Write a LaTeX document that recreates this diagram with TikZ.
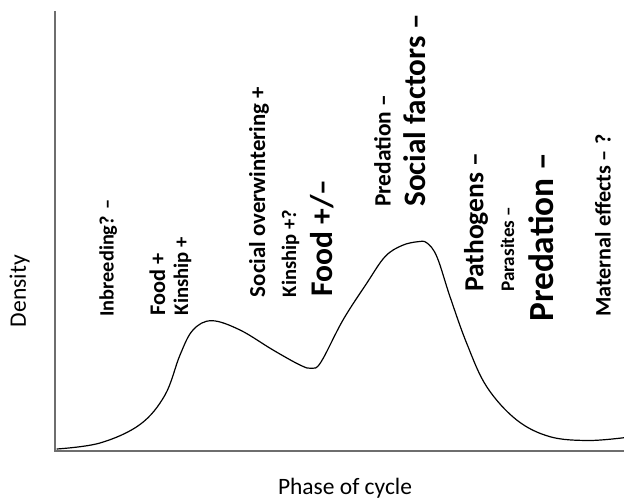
\documentclass[tikz,border=0pt]{standalone}
\usepackage{fontspec}
\setmainfont{Carlito}
\definecolor{axisgray}{HTML}{6E6E6E}
\newlength\lblwd
% set #3 in series #1 at the size that makes it #2 pt long
\newcommand\sizedtext[3]{%
  \settowidth\lblwd{#1\fontsize{10pt}{12pt}\selectfont #3}%
  \pgfmathsetmacro\lblsize{10*#2/\lblwd}%
  #1\fontsize{\lblsize pt}{\lblsize pt}\selectfont #3}
\begin{document}
\begin{tikzpicture}[x=1pt,y=-1pt,
  axis/.style={draw=axisgray, line width=1.6pt},
  curve/.style={draw=black, line width=1.2pt, line join=round},
  lbl/.style={rotate=90, anchor=west, inner sep=0pt, outer sep=0pt},
  axlbl/.style={inner sep=0pt, outer sep=0pt}]
\useasboundingbox (0,0) rectangle (624,500);

% axes
\coordinate (ytop) at (55,11);
\coordinate (orig) at (55,451);
\coordinate (xend) at (625,451);
\draw[axis] (ytop) -- (orig) -- (xend);

% density curve over the cycle
\draw[curve] plot[smooth, tension=0.6] coordinates {
  (56.7,449) (100,443) (140,424.5) (165,395) (180,355) (193,330)
  (211.7,320.7) (240,330) (273,350) (300,365) (311.7,368.3)
  (321,362) (343,320) (366.7,283.3) (385,256.7) (402,245.5) (418,241.7)
  (427,243) (437,257) (450,296.7) (466.7,343.3) (486.7,386.7)
  (516.7,420) (550,436.7) (588,440.5) (624,437.7)};

% axis titles
\node[lbl] (ylab) at (19.7,327) {\sizedtext{\mdseries}{72}{Density}};
\node[axlbl] (xlab) at (345,488.5) {\sizedtext{\mdseries}{134}{Phase of cycle}};

% factors along the cycle
\node[lbl] (inbreed) at (108.3,316.7) {\sizedtext{\bfseries}{117}{Inbreeding? –}};
\node[lbl] (food1)   at (157.5,315)   {\sizedtext{\bfseries}{62}{Food +}};
\node[lbl] (kin1)    at (182.5,315)   {\sizedtext{\bfseries}{78}{Kinship +}};
\node[lbl] (social)  at (259,297)     {\sizedtext{\bfseries}{210}{Social overwintering +}};
\node[lbl] (kin2)    at (290.5,297)   {\sizedtext{\bfseries}{87}{Kinship +?}};
\node[lbl] (food2)   at (321.7,296.7) {\sizedtext{\bfseries}{117}{Food +/–}};
\node[lbl] (pred1)   at (382.5,206.7) {\sizedtext{\bfseries}{112}{Predation –}};
\node[lbl] (sfact)   at (415,206.7)   {\sizedtext{\bfseries}{193}{Social factors –}};
\node[lbl] (patho)   at (476,291.7)   {\sizedtext{\bfseries}{139}{Pathogens –}};
\node[lbl] (para)    at (507.5,291.7) {\sizedtext{\bfseries}{85}{Parasites –}};
\node[lbl] (pred2)   at (541,321.7)   {\sizedtext{\bfseries}{169}{Predation –}};
\node[lbl] (matern)  at (603,316.7)   {\sizedtext{\bfseries}{182}{Maternal effects – ?}};
\end{tikzpicture}
\end{document}
